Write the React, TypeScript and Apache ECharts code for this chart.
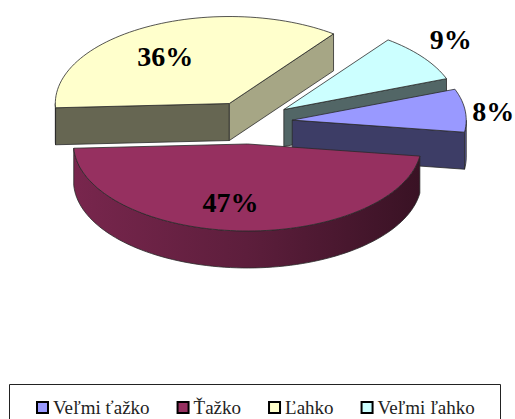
import React, { useEffect, useRef } from "react";
import * as echarts from "echarts";

// Data
const categories = ["Veľmi ťažko", "Ťažko", "Ľahko", "Veľmi ľahko"];
const shares = [8, 47, 36, 9];
const labels = ["8%", "47%", "36%", "9%"];

// Styles and layout
const rgb: number[][] = [
  [153, 153, 255],
  [150, 48, 96],
  [255, 255, 204],
  [204, 255, 255],
];
const paintOrder = [2, 3, 0, 1];
const labelOffset: number[][] = [
  [201, -9],
  [-17, 59],
  [-64, -47],
  [167, -70],
];
const CX = 249.5, CY = 122.5, RX = 174, RY = 87, DEPTH = 37, EXPLODE = 43;
const FIRST_ANGLE = -20.8;
const SERIF = "'Liberation Serif', 'Times New Roman', serif";
const EDGE = "#2a2a2a";

const shade = (c: number[], k: number) =>
  `rgb(${c.map((v) => Math.round(v * k)).join(",")})`;
const rad = (d: number) => (d * Math.PI) / 180;

function sliceAngles(i: number) {
  const total = shares.reduce((a, b) => a + b, 0);
  const before = shares.slice(0, i).reduce((a, b) => a + b, 0);
  const start = FIRST_ANGLE + (before / total) * 360;
  return [start, start + (shares[i] / total) * 360];
}

function buildSlice(i: number, value: number) {
  const [start] = sliceAngles(i);
  const total = shares.reduce((a, b) => a + b, 0);
  const end = start + (value / total) * 360;
  const mid = (start + end) / 2;
  const cx = CX + EXPLODE * Math.cos(rad(mid));
  const cy = CY + EXPLODE * 0.5 * Math.sin(rad(mid));
  const at = (d: number, down = 0): number[] => [
    cx + RX * Math.cos(rad(d)),
    cy + RY * Math.sin(rad(d)) + down,
  ];
  const arc = (a: number, b: number, down = 0) => {
    const n = Math.max(2, Math.ceil(Math.abs(b - a) / 2));
    const out: number[][] = [];
    for (let k = 0; k <= n; k++) out.push(at(a + ((b - a) * k) / n, down));
    return out;
  };
  const color = rgb[i];
  const children: any[] = [];
  const style = (fill: any) => ({ fill, stroke: EDGE, lineWidth: 0.8 });

  // Cut faces that look towards the viewer
  const inner = [RX * Math.cos(rad(mid)), RY * Math.sin(rad(mid))];
  [start, end].forEach((d) => {
    let ux = RX * Math.cos(rad(d));
    let uy = RY * Math.sin(rad(d));
    if (ux < 0) { ux = -ux; uy = -uy; }
    if (ux * inner[1] - uy * inner[0] < 0) {
      const k = Math.abs(uy / ux) > 0.4 ? 0.65 : 0.4;
      children.push({
        type: "polygon",
        shape: { points: [[cx, cy], at(d), at(d, DEPTH), [cx, cy + DEPTH]] },
        style: style(shade(color, k)),
      });
    }
  });

  // Outer wall: only the part of the rim facing the front
  const wallFrom = Math.max(start, 0);
  const wallTo = Math.min(end, 180);
  if (wallTo > wallFrom) {
    const top = arc(wallFrom, wallTo);
    const bottom = arc(wallFrom, wallTo, DEPTH).reverse();
    const fill = new echarts.graphic.LinearGradient(0, 0, 1, 0, [
      { offset: 0, color: shade(color, 0.8) },
      { offset: 0.5, color: shade(color, 0.62) },
      { offset: 1, color: shade(color, 0.38) },
    ]);
    children.push({
      type: "polygon",
      shape: { points: [...top, ...bottom] },
      style: style(fill),
    });
  }

  // Top face
  children.push({
    type: "polygon",
    shape: { points: [[cx, cy], ...arc(start, end)] },
    style: style(shade(color, 1)),
  });

  // Percentage label
  children.push({
    type: "text",
    x: cx + labelOffset[i][0],
    y: cy + labelOffset[i][1],
    style: {
      text: labels[i],
      fill: "#000",
      font: `bold 28px ${SERIF}`,
      align: "center",
      verticalAlign: "middle",
    },
  });
  return { type: "group", children };
}

export default function App() {
  const ref = useRef<HTMLDivElement>(null);
  useEffect(() => {
    document.body.style.margin = "0";
    const chart = echarts.init(ref.current!, null, { renderer: "svg" });
    chart.setOption({
      animation: false,
      backgroundColor: "#fff",
      legend: {
        data: categories,
        left: 36,
        top: 398,
        padding: 0,
        itemGap: 27,
        itemWidth: 11,
        itemHeight: 11,
        icon: "rect",
        selectedMode: false,
        itemStyle: { borderColor: "#000", borderWidth: 2 },
        textStyle: { fontFamily: SERIF, fontSize: 19, color: "#222", padding: [0, 0, 0, 0] },
      },
      graphic: [
        {
          type: "rect",
          shape: { x: 9.5, y: 384.5, width: 491, height: 60 },
          style: { fill: "none", stroke: "#222", lineWidth: 1 },
        },
      ],
      series: paintOrder.map((i) => ({
        type: "custom",
        name: categories[i],
        coordinateSystem: "none",
        silent: true,
        itemStyle: { color: shade(rgb[i], 1) },
        data: [[shares[i]]],
        renderItem: (_: any, api: any) => buildSlice(i, api.value(0)),
      })),
    });
    return () => chart.dispose();
  }, []);
  return <div ref={ref} style={{ width: 515, height: 419, overflow: "hidden" }} />;
}
